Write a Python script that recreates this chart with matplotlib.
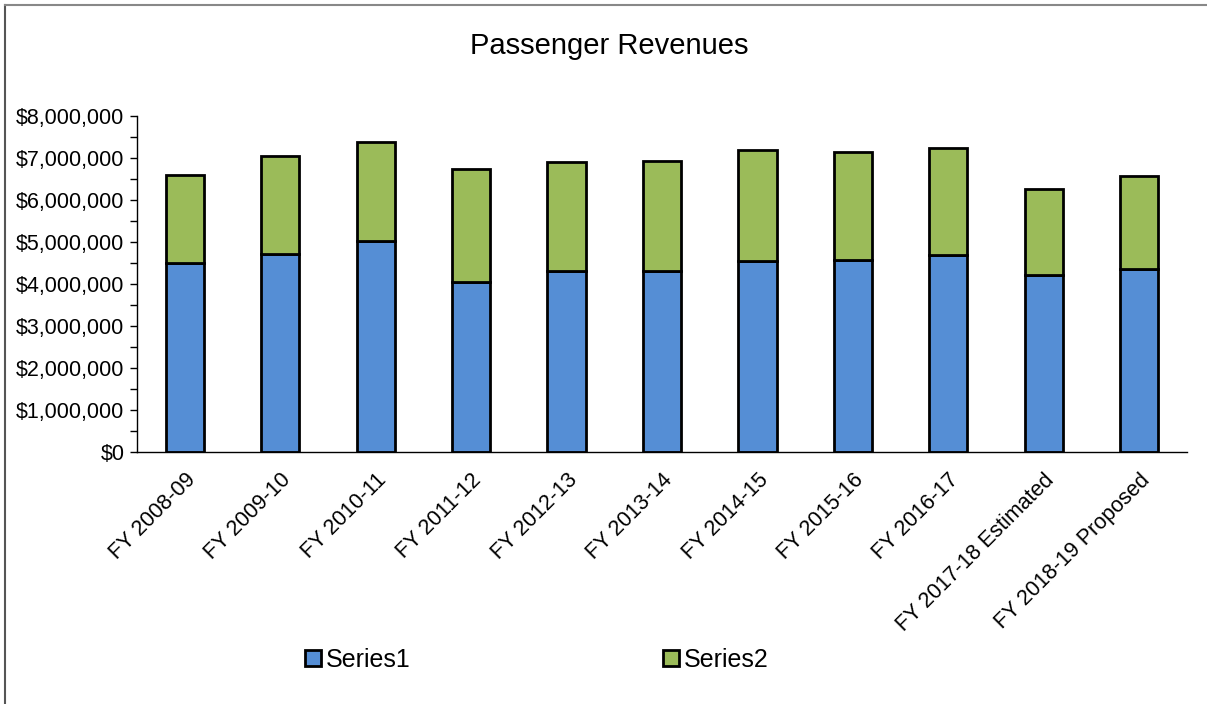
import matplotlib
matplotlib.use("Agg")
import matplotlib.pyplot as plt
from matplotlib.lines import Line2D
from matplotlib.ticker import FuncFormatter, MultipleLocator
import numpy as np

categories = ["FY 2008-09", "FY 2009-10", "FY 2010-11", "FY 2011-12", "FY 2012-13",
              "FY 2013-14", "FY 2014-15", "FY 2015-16", "FY 2016-17",
              "FY 2017-18 Estimated", "FY 2018-19 Proposed"]
series1 = [4500000, 4720000, 5010000, 4050000, 4310000, 4310000, 4550000, 4560000,
           4680000, 4220000, 4340000]
totals = [6600000, 7040000, 7390000, 6730000, 6900000, 6930000, 7190000, 7130000,
          7240000, 6260000, 6570000]
series2 = [t - s for t, s in zip(totals, series1)]

plt.rcParams['font.family'] = ['Liberation Sans', 'DejaVu Sans']

W, H = 1207, 704
fig = plt.figure(figsize=(W / 100, H / 100), dpi=100)
ax = fig.add_axes([137 / W, 1 - 451.5 / H, (1187 - 137) / W, (451.5 - 116) / H])

x = np.arange(len(categories))
blue = "#558ED5"
green = "#9BBB59"
ax.bar(x, series1, width=0.4, color=blue, edgecolor="black", linewidth=2, label="Series1")
ax.bar(x, series2, width=0.4, bottom=series1, color=green, edgecolor="black", linewidth=2,
       label="Series2")

ax.set_xlim(-0.5, len(categories) - 0.5)
ax.set_ylim(0, 8000000)
ax.yaxis.set_major_locator(MultipleLocator(1000000))
ax.yaxis.set_minor_locator(MultipleLocator(500000))
ax.yaxis.set_major_formatter(FuncFormatter(lambda v, p: "${:,.0f}".format(v)))
ax.tick_params(axis='y', which='both', direction='out', length=5, width=1, labelsize=15.5,
               colors='black', pad=4)
ax.tick_params(axis='x', length=0, labelsize=15.5, pad=13)
ax.set_xticks(x)
ax.set_xticklabels(categories, rotation=45, ha='right', rotation_mode='anchor')

for s in ['top', 'right']:
    ax.spines[s].set_visible(False)
for s in ['left', 'bottom']:
    ax.spines[s].set_color('black')
    ax.spines[s].set_linewidth(1)

fig.text(609 / W, 1 - 46 / H, "Passenger Revenues", ha='center', va='center', fontsize=21)

fig.legend(loc='center', bbox_to_anchor=(537 / W, 1 - 660 / H), ncol=2, frameon=False,
           fontsize=18, handlelength=0.62, handleheight=0.62, handletextpad=0.22,
           columnspacing=10.1, borderpad=0)

fig.add_artist(Line2D([4.5 / W, 4.5 / W], [0, 1 - 5 / H], transform=fig.transFigure,
                      color='#555555', linewidth=1.5))
fig.add_artist(Line2D([4.5 / W, 1], [1 - 5 / H, 1 - 5 / H], transform=fig.transFigure,
                      color='#888888', linewidth=1.5))

fig.savefig("out.png", dpi=100)
